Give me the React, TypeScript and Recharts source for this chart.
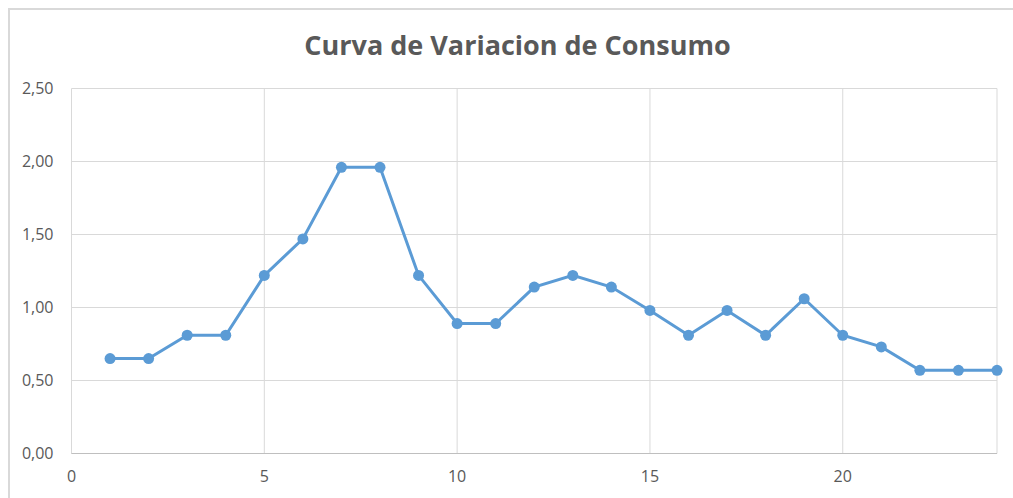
import { LineChart, Line, XAxis, YAxis, CartesianGrid } from "recharts";

const TITLE = "Curva de Variacion de Consumo";

const HORAS = [1, 2, 3, 4, 5, 6, 7, 8, 9, 10, 11, 12, 13, 14, 15, 16, 17, 18, 19, 20, 21, 22, 23, 24];
const CONSUMO = [
  0.65, 0.65, 0.81, 0.81, 1.22, 1.47, 1.96, 1.96, 1.22, 0.89, 0.89, 1.14,
  1.22, 1.14, 0.98, 0.81, 0.98, 0.81, 1.06, 0.81, 0.73, 0.57, 0.57, 0.57,
];
const X_TICKS = [0, 5, 10, 15, 20];
const Y_TICKS = [0, 0.5, 1, 1.5, 2, 2.5];

const BLUE = "#5b9bd5";
const GRID = "#d9d9d9";
const TEXT = "#595959";
const FONT = "'Open Sans', sans-serif";

const data = HORAS.map((h, i) => ({ hora: h, consumo: CONSUMO[i] }));

const fmt = (v: number) => v.toFixed(2).replace(".", ",");

export default function App() {
  return (
    <div
      style={{
        position: "fixed",
        left: 8,
        top: 8,
        width: 1005,
        height: 490,
        overflow: "hidden",
        background: "#fff",
        fontFamily: FONT,
      }}
    >
      {/* chart frame: only the top and left edges are in view */}
      <div style={{ position: "absolute", left: 0, top: 0, width: 1005, height: 2, background: GRID }} />
      <div style={{ position: "absolute", left: 0, top: 0, width: 2, height: 490, background: GRID }} />
      <svg width={1003} height={70} style={{ position: "absolute", left: 2, top: 2 }}>
        <text x={507.5} y={45} textAnchor="middle" fontFamily={FONT} fontWeight={700} fontSize={27} fill={TEXT}>
          {TITLE}
        </text>
      </svg>
      <div style={{ position: "absolute", left: 2, top: 2 }}>
        <LineChart
          width={1003}
          height={480}
          data={data}
          margin={{ top: 78.5, right: 16, left: 11.5, bottom: 6.5 }}
        >
          <CartesianGrid stroke={GRID} strokeWidth={1} />
          <XAxis
            dataKey="hora"
            type="number"
            domain={[0, 24]}
            ticks={X_TICKS}
            height={30}
            tickSize={0}
            tickMargin={17}
            stroke="#bfbfbf"
            tick={{ fill: TEXT, fontSize: 16, fontFamily: FONT }}
          />
          <YAxis
            type="number"
            domain={[0, 2.5]}
            ticks={Y_TICKS}
            width={50}
            tickSize={0}
            tickMargin={18}
            axisLine={false}
            tickFormatter={fmt}
            tick={{ fill: TEXT, fontSize: 16, fontFamily: FONT }}
          />
          <Line
            type="linear"
            dataKey="consumo"
            stroke={BLUE}
            strokeWidth={3}
            dot={{ r: 5.5, fill: BLUE, stroke: "none" }}
            activeDot={false}
            isAnimationActive={false}
          />
        </LineChart>
      </div>
    </div>
  );
}
